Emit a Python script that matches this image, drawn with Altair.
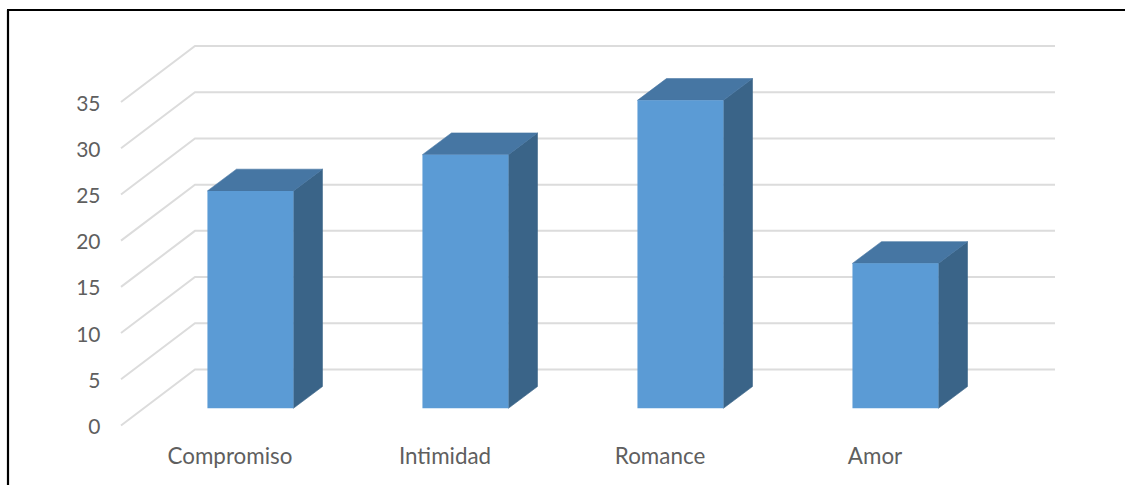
import altair as alt
import pandas as pd

# Chart values
categories = ["Compromiso", "Intimidad", "Romance", "Amor"]
values = [24, 28, 34, 16]
tick_values = [0, 5, 10, 15, 20, 25, 30, 35]

# Oblique projection, in category units (x) and value units (y)
FLOOR_LEFT = -0.5
WALL_RIGHT = 3.844
WALL_DX = 0.344
WALL_DY = 6.06
BAR_LEFT = -0.098
BAR_RIGHT = 0.302
BAR_DX = 0.135
BAR_DY = 2.4

# Wall grid: side-wall diagonal running into the back-wall line
grid_rows = []
for tick in tick_values:
    grid_rows += [
        {"tick": tick, "order": 0, "x": FLOOR_LEFT, "y": tick},
        {"tick": tick, "order": 1, "x": FLOOR_LEFT + WALL_DX, "y": tick + WALL_DY},
        {"tick": tick, "order": 2, "x": WALL_RIGHT, "y": tick + WALL_DY},
    ]
grid_df = pd.DataFrame(grid_rows)

front_rows, side_rows, top_rows = [], [], []
for i, (cat, val) in enumerate(zip(categories, values)):
    left, right = i + BAR_LEFT, i + BAR_RIGHT
    front_rows.append({"cat": cat, "x": left, "x2": right, "y": 0, "y2": val})
    side_rows += [
        {"cat": cat, "x": right, "y": 0, "y2": val},
        {"cat": cat, "x": right + BAR_DX, "y": BAR_DY, "y2": val + BAR_DY},
    ]
    top_rows += [
        {"cat": cat, "y": val, "x": left, "x2": right},
        {"cat": cat, "y": val + BAR_DY, "x": left + BAR_DX, "x2": right + BAR_DX},
    ]

FONT = "Lato"
TEXT = "#5f5f5f"
SIDE_COLOR = "#3a6488"
TOP_COLOR = "#4676a3"

x_scale = alt.Scale(domain=[FLOOR_LEFT, WALL_RIGHT], nice=False, zero=False)
grid_y = alt.Scale(domain=[0, 41.06], nice=False, zero=False)
bar_y = alt.Scale(domain=[-1.9, 40.0], nice=False, zero=False)

label_expr = "[" + ",".join(f"'{c}'" for c in categories) + "][datum.value]"

x_axis = alt.Axis(
    values=[0, 1, 2, 3],
    labelExpr=label_expr,
    grid=False,
    domain=False,
    ticks=False,
    labelPadding=20,
    labelOffset=1,
    labelFont=FONT,
    labelFontSize=22.4,
    labelColor=TEXT,
)
x_enc = alt.X("x:Q", scale=x_scale, title=None, axis=x_axis)

grid = alt.Chart(grid_df).mark_line(color="#dcdcdc", strokeWidth=2).encode(
    x=x_enc,
    y=alt.Y(
        "y:Q",
        scale=grid_y,
        title=None,
        axis=alt.Axis(
            values=tick_values,
            grid=False,
            domain=False,
            ticks=False,
            labelPadding=21,
            labelOffset=2,
            labelFont=FONT,
            labelFontSize=21,
            labelColor=TEXT,
        ),
    ),
    detail="tick:N",
    order="order:Q",
)

front = alt.Chart(pd.DataFrame(front_rows)).mark_rect(color="#5b9bd5").encode(
    x=x_enc,
    x2="x2:Q",
    y=alt.Y("y:Q", scale=bar_y, axis=None),
    y2="y2:Q",
)

# A hairline stroke in the face colour closes the seams between adjoining faces
side = alt.Chart(pd.DataFrame(side_rows)).mark_area(
    color=SIDE_COLOR, stroke=SIDE_COLOR, strokeWidth=0.6, orient="vertical"
).encode(
    x=x_enc,
    y=alt.Y("y:Q", scale=bar_y, axis=None),
    y2="y2:Q",
    detail="cat:N",
)

top = alt.Chart(pd.DataFrame(top_rows)).mark_area(
    color=TOP_COLOR, stroke=TOP_COLOR, strokeWidth=0.6, orient="horizontal"
).encode(
    y=alt.Y("y:Q", scale=bar_y, axis=None),
    x=x_enc,
    x2="x2:Q",
    detail="cat:N",
)

bars = alt.layer(side, top, front)

# Black frame along the left and top edges of the page
frame_left = alt.Chart(pd.DataFrame({"a": [0]})).mark_rule(color="black", strokeWidth=2.2).encode(
    x=alt.value(-113), y=alt.value(-36), y2=alt.value(440)
)
frame_top = alt.Chart(pd.DataFrame({"a": [0]})).mark_rule(color="black", strokeWidth=2.2).encode(
    x=alt.value(-114), x2=alt.value(1005), y=alt.value(-36)
)

chart = (
    alt.layer(grid, bars, frame_left, frame_top)
    .resolve_scale(y="independent")
    .properties(
        width=934,
        height=379.5,
        background="white",
        autosize=alt.AutoSizeParams(type="none"),
        padding={"left": 121, "top": 46, "right": 70, "bottom": 59.5},
    )
    .configure_view(stroke=None)
)

chart.save("out.html", embed_options={"renderer": "svg", "actions": False})
